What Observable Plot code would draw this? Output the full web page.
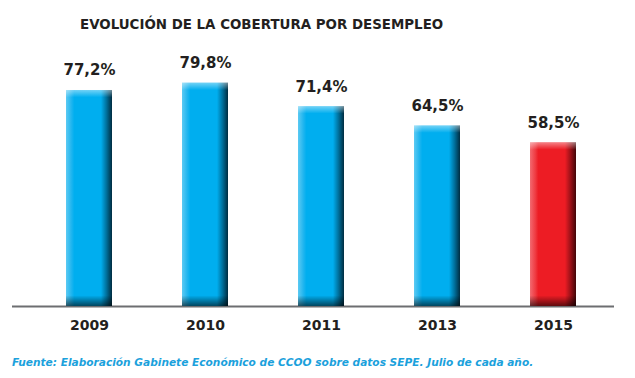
<!DOCTYPE html>
<html>
<head>
<meta charset="utf-8">
<script src="https://cdn.jsdelivr.net/npm/d3@7"></script>
<script src="https://cdn.jsdelivr.net/npm/@observablehq/plot@0.6"></script>
<style>
  html, body { margin: 0; padding: 0; background: #fff; }
  #wrap { position: relative; width: 635px; height: 378px; overflow: hidden; }
  #title { position: absolute; left: 80px; top: 17px; font: bold 13.4px "DejaVu Sans", sans-serif; color: #231f20; white-space: nowrap; }
  #caption { position: absolute; left: 12px; top: 356px; font: italic bold 10.6px "DejaVu Sans", sans-serif; color: #1ba1dc; white-space: nowrap; }
  #chart { position: absolute; left: 0; top: 0; }
</style>
</head>
<body>
<svg width="0" height="0" style="position:absolute">
  <defs>
    <linearGradient id="gBlue" x1="0" y1="0" x2="1" y2="0">
      <stop offset="0" stop-color="#5ccaf3"/>
      <stop offset="0.12" stop-color="#1fb5ef"/>
      <stop offset="0.18" stop-color="#00aeef"/>
      <stop offset="0.76" stop-color="#00aeef"/>
      <stop offset="0.88" stop-color="#00709c"/>
      <stop offset="1" stop-color="#002c40"/>
    </linearGradient>
    <linearGradient id="gRed" x1="0" y1="0" x2="1" y2="0">
      <stop offset="0" stop-color="#f26a70"/>
      <stop offset="0.12" stop-color="#ef3a41"/>
      <stop offset="0.18" stop-color="#ed1c24"/>
      <stop offset="0.76" stop-color="#ed1c24"/>
      <stop offset="0.88" stop-color="#9c1118"/>
      <stop offset="1" stop-color="#420609"/>
    </linearGradient>
    <linearGradient id="gTop" x1="0" y1="0" x2="0" y2="1">
      <stop offset="0" stop-color="#ffffff" stop-opacity="0.45"/>
      <stop offset="1" stop-color="#ffffff" stop-opacity="0"/>
    </linearGradient>
    <linearGradient id="gBottom" x1="0" y1="0" x2="0" y2="1">
      <stop offset="0" stop-color="#000000" stop-opacity="0"/>
      <stop offset="1" stop-color="#000000" stop-opacity="0.6"/>
    </linearGradient>
  </defs>
</svg>
<div id="wrap">
  <div id="title">EVOLUCIÓN DE LA COBERTURA POR DESEMPLEO</div>
  <div id="chart"></div>
  <div id="caption">Fuente: Elaboración Gabinete Económico de CCOO sobre datos SEPE. Julio de cada año.</div>
</div>
<script>
const years = ["2009", "2010", "2011", "2013", "2015"];
const coverage = [77.2, 79.8, 71.4, 64.5, 58.5];
const highlighted = ["2015"];

const data = years.map((year, i) => ({year, value: coverage[i]}));
const fmt = v => v.toFixed(1).replace(".", ",") + "%";

const chart = Plot.plot({
  width: 635,
  height: 378,
  marginLeft: 12,
  marginRight: 21,
  marginTop: 26,
  marginBottom: 72,
  x: {type: "band", domain: years, range: [30, 612], paddingInner: 0.605, paddingOuter: 0.3025, axis: null},
  y: {domain: [0, 100], range: [306, 26.2], axis: null},
  style: {background: "transparent"},
  marks: [
    Plot.ruleY([0], {stroke: "#6d6e71", strokeWidth: 2}),
    Plot.barY(data.filter(d => !highlighted.includes(d.year)), {x: "year", y: "value", fill: "url(#gBlue)"}),
    Plot.barY(data.filter(d => highlighted.includes(d.year)), {x: "year", y: "value", fill: "url(#gRed)"}),
    Plot.barY(data, {x: "year", y1: d => d.value - 2.6, y2: "value", fill: "url(#gTop)"}),
    Plot.barY(data, {x: "year", y1: 0, y2: 3.8, fill: "url(#gBottom)"}),
    Plot.text(data, {x: "year", y: "value", text: d => fmt(d.value), dy: -20, fontSize: 15, fontWeight: "bold", fontFamily: "DejaVu Sans", fill: "#231f20"}),
    Plot.text(data, {x: "year", y: 0, text: "year", dy: 19, fontSize: 14, fontWeight: "bold", fontFamily: "DejaVu Sans", fill: "#231f20"})
  ]
});
document.getElementById("chart").appendChild(chart);
</script>
</body>
</html>
